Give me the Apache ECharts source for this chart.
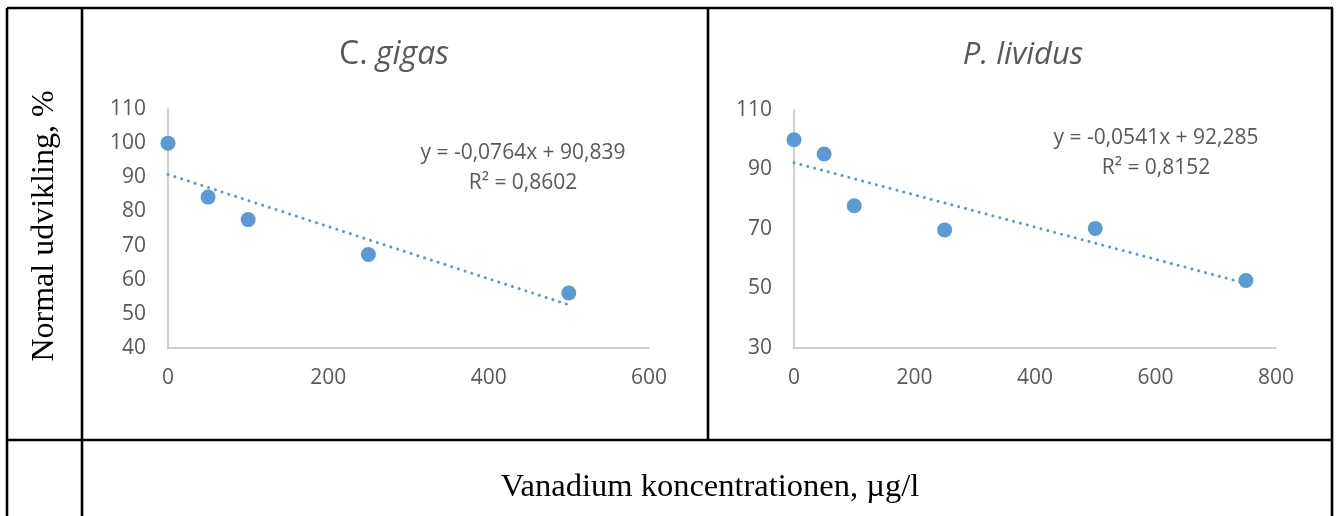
<!DOCTYPE html>
<html>
<head>
<meta charset="utf-8">
<script src="https://cdn.jsdelivr.net/npm/echarts@6/dist/echarts.min.js"></script>
<style>
  html, body { margin: 0; padding: 0; background: #fff; }
  #chart { width: 1337px; height: 516px; }
</style>
</head>
<body>
<div id="chart"></div>
<script>
// C. gigas
const gigasX = [0, 50, 100, 250, 500]
const gigasY = [100, 84.2, 77.6, 67.4, 56.1]
const gigasTrendX = [0, 500]
const gigasTrendY = [90.839, 52.639]
const gigasEquation = ['y = -0,0764x + 90,839', 'R² = 0,8602']

// P. lividus
const lividusX = [0, 50, 100, 250, 500, 750]
const lividusY = [100, 95.2, 77.8, 69.7, 70.2, 52.7]
const lividusTrendX = [0, 750]
const lividusTrendY = [92.285, 51.71]
const lividusEquation = ['y = -0,0541x + 92,285', 'R² = 0,8152']

const yLabel = 'Normal udvikling, %'
const xLabel = 'Vanadium koncentrationen, µg/l'

const blue = '#5b9bd5'
const grey = '#595959'
const sans = 'Open Sans'
const serif = 'Liberation Serif'

const pairs = (xs, ys) => xs.map((x, i) => [x, ys[i]])

function valueAxis(idx, min, max, interval, isX) {
  return {
    type: 'value',
    gridIndex: idx,
    min, max, interval,
    axisLine: { show: true, onZero: false, lineStyle: { color: '#bfbfbf', width: 1.5 } },
    axisTick: { show: false },
    splitLine: { show: false },
    axisLabel: {
      color: grey, fontSize: 21, fontFamily: sans,
      margin: isX ? 20 : 22,
      showMaxLabel: true, showMinLabel: true
    }
  }
}

function scatter(idx, data) {
  return {
    type: 'scatter', xAxisIndex: idx, yAxisIndex: idx, z: 3,
    symbolSize: 15, itemStyle: { color: blue, opacity: 1 },
    data
  }
}

function trend(idx, data) {
  return {
    type: 'line', xAxisIndex: idx, yAxisIndex: idx, z: 2,
    symbol: 'none', silent: true,
    lineStyle: { color: blue, width: 3, type: [0.1, 7], cap: 'round' },
    data
  }
}

function frameLine(x1, y1, x2, y2) {
  return {
    type: 'line',
    shape: { x1, y1, x2, y2 },
    style: { stroke: '#000', lineWidth: 2.6 }
  }
}

const chart = echarts.init(document.getElementById('chart'))

chart.setOption({
  animation: false,
  grid: [
    { left: 168, top: 109, width: 481, height: 239 },
    { left: 794, top: 110, width: 482, height: 238 }
  ],
  xAxis: [
    valueAxis(0, 0, 600, 200, true),
    valueAxis(1, 0, 800, 200, true)
  ],
  yAxis: [
    valueAxis(0, 40, 110, 10, false),
    valueAxis(1, 30, 110, 20, false)
  ],
  series: [
    trend(0, pairs(gigasTrendX, gigasTrendY)),
    scatter(0, pairs(gigasX, gigasY)),
    trend(1, pairs(lividusTrendX, lividusTrendY)),
    scatter(1, pairs(lividusX, lividusY))
  ],
  graphic: [
    // table frame
    frameLine(7, 8, 1333, 8),
    frameLine(7, 8, 7, 516),
    frameLine(1332, 8, 1332, 516),
    frameLine(82, 8, 82, 516),
    frameLine(708, 8, 708, 440),
    frameLine(7, 440, 1333, 440),
    // panel titles
    {
      type: 'text', x: 394, y: 55,
      style: {
        text: '{n|C. }{i|gigas}', align: 'center', verticalAlign: 'middle',
        rich: {
          n: { fontSize: 32, fontFamily: sans, fill: grey },
          i: { fontSize: 32, fontFamily: sans, fontStyle: 'italic', fill: grey }
        }
      }
    },
    {
      type: 'text', x: 1023, y: 55,
      style: {
        text: 'P. lividus', align: 'center', verticalAlign: 'middle',
        fontSize: 31, fontFamily: sans, fontStyle: 'italic', fill: grey
      }
    },
    // trendline equations
    {
      type: 'text', x: 523, y: 168,
      style: {
        text: gigasEquation.join('\n'), align: 'center', verticalAlign: 'middle',
        fontSize: 21, lineHeight: 30, fontFamily: sans, fill: grey
      }
    },
    {
      type: 'text', x: 1156, y: 153,
      style: {
        text: lividusEquation.join('\n'), align: 'center', verticalAlign: 'middle',
        fontSize: 21, lineHeight: 30, fontFamily: sans, fill: grey
      }
    },
    // shared axis names
    {
      type: 'text', x: 45, y: 226, rotation: Math.PI / 2,
      style: {
        text: yLabel, align: 'center', verticalAlign: 'middle',
        fontSize: 32, fontFamily: serif, fill: '#000'
      }
    },
    {
      type: 'text', x: 710, y: 487,
      style: {
        text: xLabel, align: 'center', verticalAlign: 'middle',
        fontSize: 32.5, fontFamily: serif, fill: '#000'
      }
    }
  ]
})
</script>
</body>
</html>
